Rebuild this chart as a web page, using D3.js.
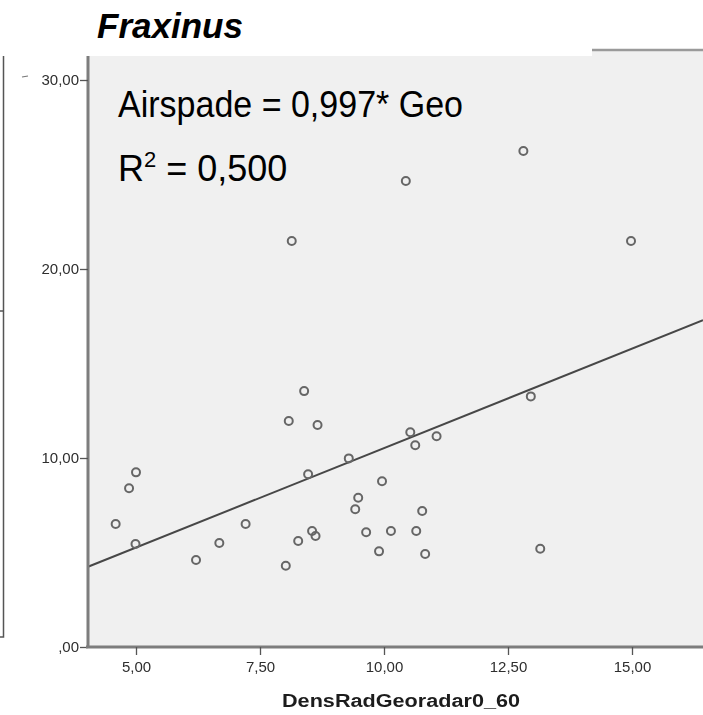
<!DOCTYPE html>
<html>
<head>
<meta charset="utf-8">
<script src="https://cdn.jsdelivr.net/npm/d3@7"></script>
<style>
  html, body { margin: 0; padding: 0; background: #ffffff; }
  svg { display: block; }
</style>
</head>
<body>
<svg id="chart" width="703" height="715"></svg>
<script>
// Observations: radar density (x) vs. airspade density (y)
const geoValues = [
  5.00, 4.86, 4.59, 4.99, 6.21, 6.68, 7.21,
  8.39, 8.08, 8.66, 10.53, 11.06, 10.63, 9.29, 8.47, 9.96, 9.48,
  9.42, 10.77, 8.55, 8.62, 8.27, 9.64, 10.14, 10.65, 9.90, 10.83,
  8.02, 12.81, 10.44, 14.98, 12.96, 8.14, 13.15
];
const airspadeValues = [
  9.24, 8.40, 6.51, 5.45, 4.60, 5.50, 6.51,
  13.54, 11.96, 11.75, 11.36, 11.15, 10.67, 9.98, 9.14, 8.77, 7.90,
  7.29, 7.20, 6.14, 5.87, 5.61, 6.07, 6.14, 6.14, 5.06, 4.92,
  4.30, 26.24, 24.66, 21.48, 13.26, 21.48, 5.20
];

const xTicks = [5, 7.5, 10, 12.5, 15];
const xTickLabels = ["5,00", "7,50", "10,00", "12,50", "15,00"];
const yTicks = [0, 10, 20, 30];
const yTickLabels = [",00", "10,00", "20,00", "30,00"];

const titleText = "Fraxinus";
const equationText = "Airspade = 0,997* Geo";
const r2Value = "0,500";
const xAxisTitle = "DensRadGeoradar0_60";

const svg = d3.select("#chart");

// Plot frame
const plot = { left: 88, right: 703, top: 50, bottom: 647 };

const x = d3.scaleLinear().domain([5, 15]).range([136, 632]);
const y = d3.scaleLinear().domain([0, 30]).range([647, 80]);

const defs = svg.append("defs");
defs.append("filter").attr("id", "soft")
  .append("feGaussianBlur").attr("stdDeviation", 0.55);

// Edge of the neighbouring panel on the left
const edge = svg.append("g").attr("stroke", "#555").attr("stroke-width", 1.5).attr("fill", "none");
edge.append("path").attr("d", "M3.5,48 V637 H0");
edge.append("line").attr("x1", 0).attr("x2", 4).attr("y1", 311).attr("y2", 311);
svg.append("line").attr("x1", 22).attr("x2", 28).attr("y1", 77).attr("y2", 76)
  .attr("stroke", "#777").attr("stroke-width", 1.2);

// Plot background
svg.append("rect")
  .attr("x", plot.left).attr("y", plot.top)
  .attr("width", plot.right - plot.left).attr("height", plot.bottom - plot.top)
  .attr("fill", "#f0f0f0");

// Frame top line
svg.append("line")
  .attr("x1", plot.left).attr("x2", plot.right)
  .attr("y1", plot.top).attr("y2", plot.top)
  .attr("stroke", "#9a9a9a").attr("stroke-width", 2.5);

// Fitted line through the origin (least squares)
const sxy = d3.sum(geoValues, (g, i) => g * airspadeValues[i]);
const sxx = d3.sum(geoValues, g => g * g);
const slope = sxy / sxx;
const xDom = [x.invert(plot.left), x.invert(plot.right)];
svg.append("line")
  .attr("x1", x(xDom[0])).attr("y1", y(slope * xDom[0]))
  .attr("x2", x(xDom[1])).attr("y2", y(slope * xDom[1]))
  .attr("stroke", "#474747").attr("stroke-width", 2);

// Points
svg.append("g")
  .selectAll("circle")
  .data(geoValues.map((g, i) => [g, airspadeValues[i]]))
  .join("circle")
  .attr("cx", d => x(d[0]))
  .attr("cy", d => y(d[1]))
  .attr("r", 4)
  .attr("fill", "none")
  .attr("stroke", "#666")
  .attr("stroke-width", 2);

// Axes
const axisColor = "#7d7d7d";
const tickFont = "Liberation Sans, Arial, sans-serif";
const yAxis = d3.axisLeft(y).tickValues(yTicks).tickSize(8)
  .tickFormat((d, i) => yTickLabels[i]);
const gy = svg.append("g").attr("transform", `translate(${plot.left},0)`).call(yAxis);
gy.attr("font-size", null).attr("font-family", null);
gy.select(".domain").attr("d", `M0,${plot.top + 6}V${plot.bottom}`)
  .attr("stroke", axisColor).attr("stroke-width", 3);
gy.selectAll(".tick line").attr("stroke", "#555").attr("stroke-width", 1.3);
gy.selectAll(".tick text")
  .attr("x", -9)
  .style("font-family", tickFont)
  .style("font-size", "15px")
  .attr("fill", "#2e2e2e")
  .attr("filter", "url(#soft)");

const xAxis = d3.axisBottom(x).tickValues(xTicks).tickSize(8)
  .tickFormat((d, i) => xTickLabels[i]);
const gx = svg.append("g").attr("transform", `translate(0,${plot.bottom})`).call(xAxis);
gx.attr("font-size", null).attr("font-family", null);
gx.select(".domain").attr("d", `M${plot.left - 2},0H${plot.right}`)
  .attr("stroke", axisColor).attr("stroke-width", 3);
gx.selectAll(".tick line").attr("stroke", "#555").attr("stroke-width", 1.3);
gx.selectAll(".tick text")
  .attr("y", 14)
  .style("font-family", tickFont)
  .style("font-size", "15px")
  .attr("fill", "#2e2e2e")
  .attr("filter", "url(#soft)");

svg.append("text")
  .attr("x", 401).attr("y", 707)
  .attr("text-anchor", "middle")
  .attr("font-family", tickFont)
  .attr("font-weight", "bold")
  .attr("font-size", 18)
  .attr("textLength", 238)
  .attr("lengthAdjust", "spacingAndGlyphs")
  .attr("fill", "#1e1e1e")
  .attr("filter", "url(#soft)")
  .text(xAxisTitle);

// Title panel
svg.append("rect").attr("x", 0).attr("y", 0).attr("width", 592).attr("height", 56).attr("fill", "#ffffff");
svg.append("text")
  .attr("x", 97).attr("y", 38)
  .attr("font-family", tickFont)
  .attr("font-weight", "bold")
  .attr("font-style", "italic")
  .attr("font-size", 35)
  .attr("textLength", 146)
  .attr("lengthAdjust", "spacingAndGlyphs")
  .attr("fill", "#000")
  .text(titleText);

// Regression annotation
svg.append("text")
  .attr("x", 118).attr("y", 117)
  .attr("font-family", tickFont)
  .attr("font-size", 36)
  .attr("fill", "#000")
  .attr("textLength", 345)
  .attr("lengthAdjust", "spacingAndGlyphs")
  .text(equationText);

const r2 = svg.append("text")
  .attr("x", 118).attr("y", 181)
  .attr("font-family", tickFont)
  .attr("font-size", 36)
  .attr("fill", "#000");
r2.append("tspan").text("R");
r2.append("tspan").attr("font-size", 22).attr("dy", -14).text("2");
r2.append("tspan").attr("dy", 14).text(" = " + r2Value);
</script>
</body>
</html>
